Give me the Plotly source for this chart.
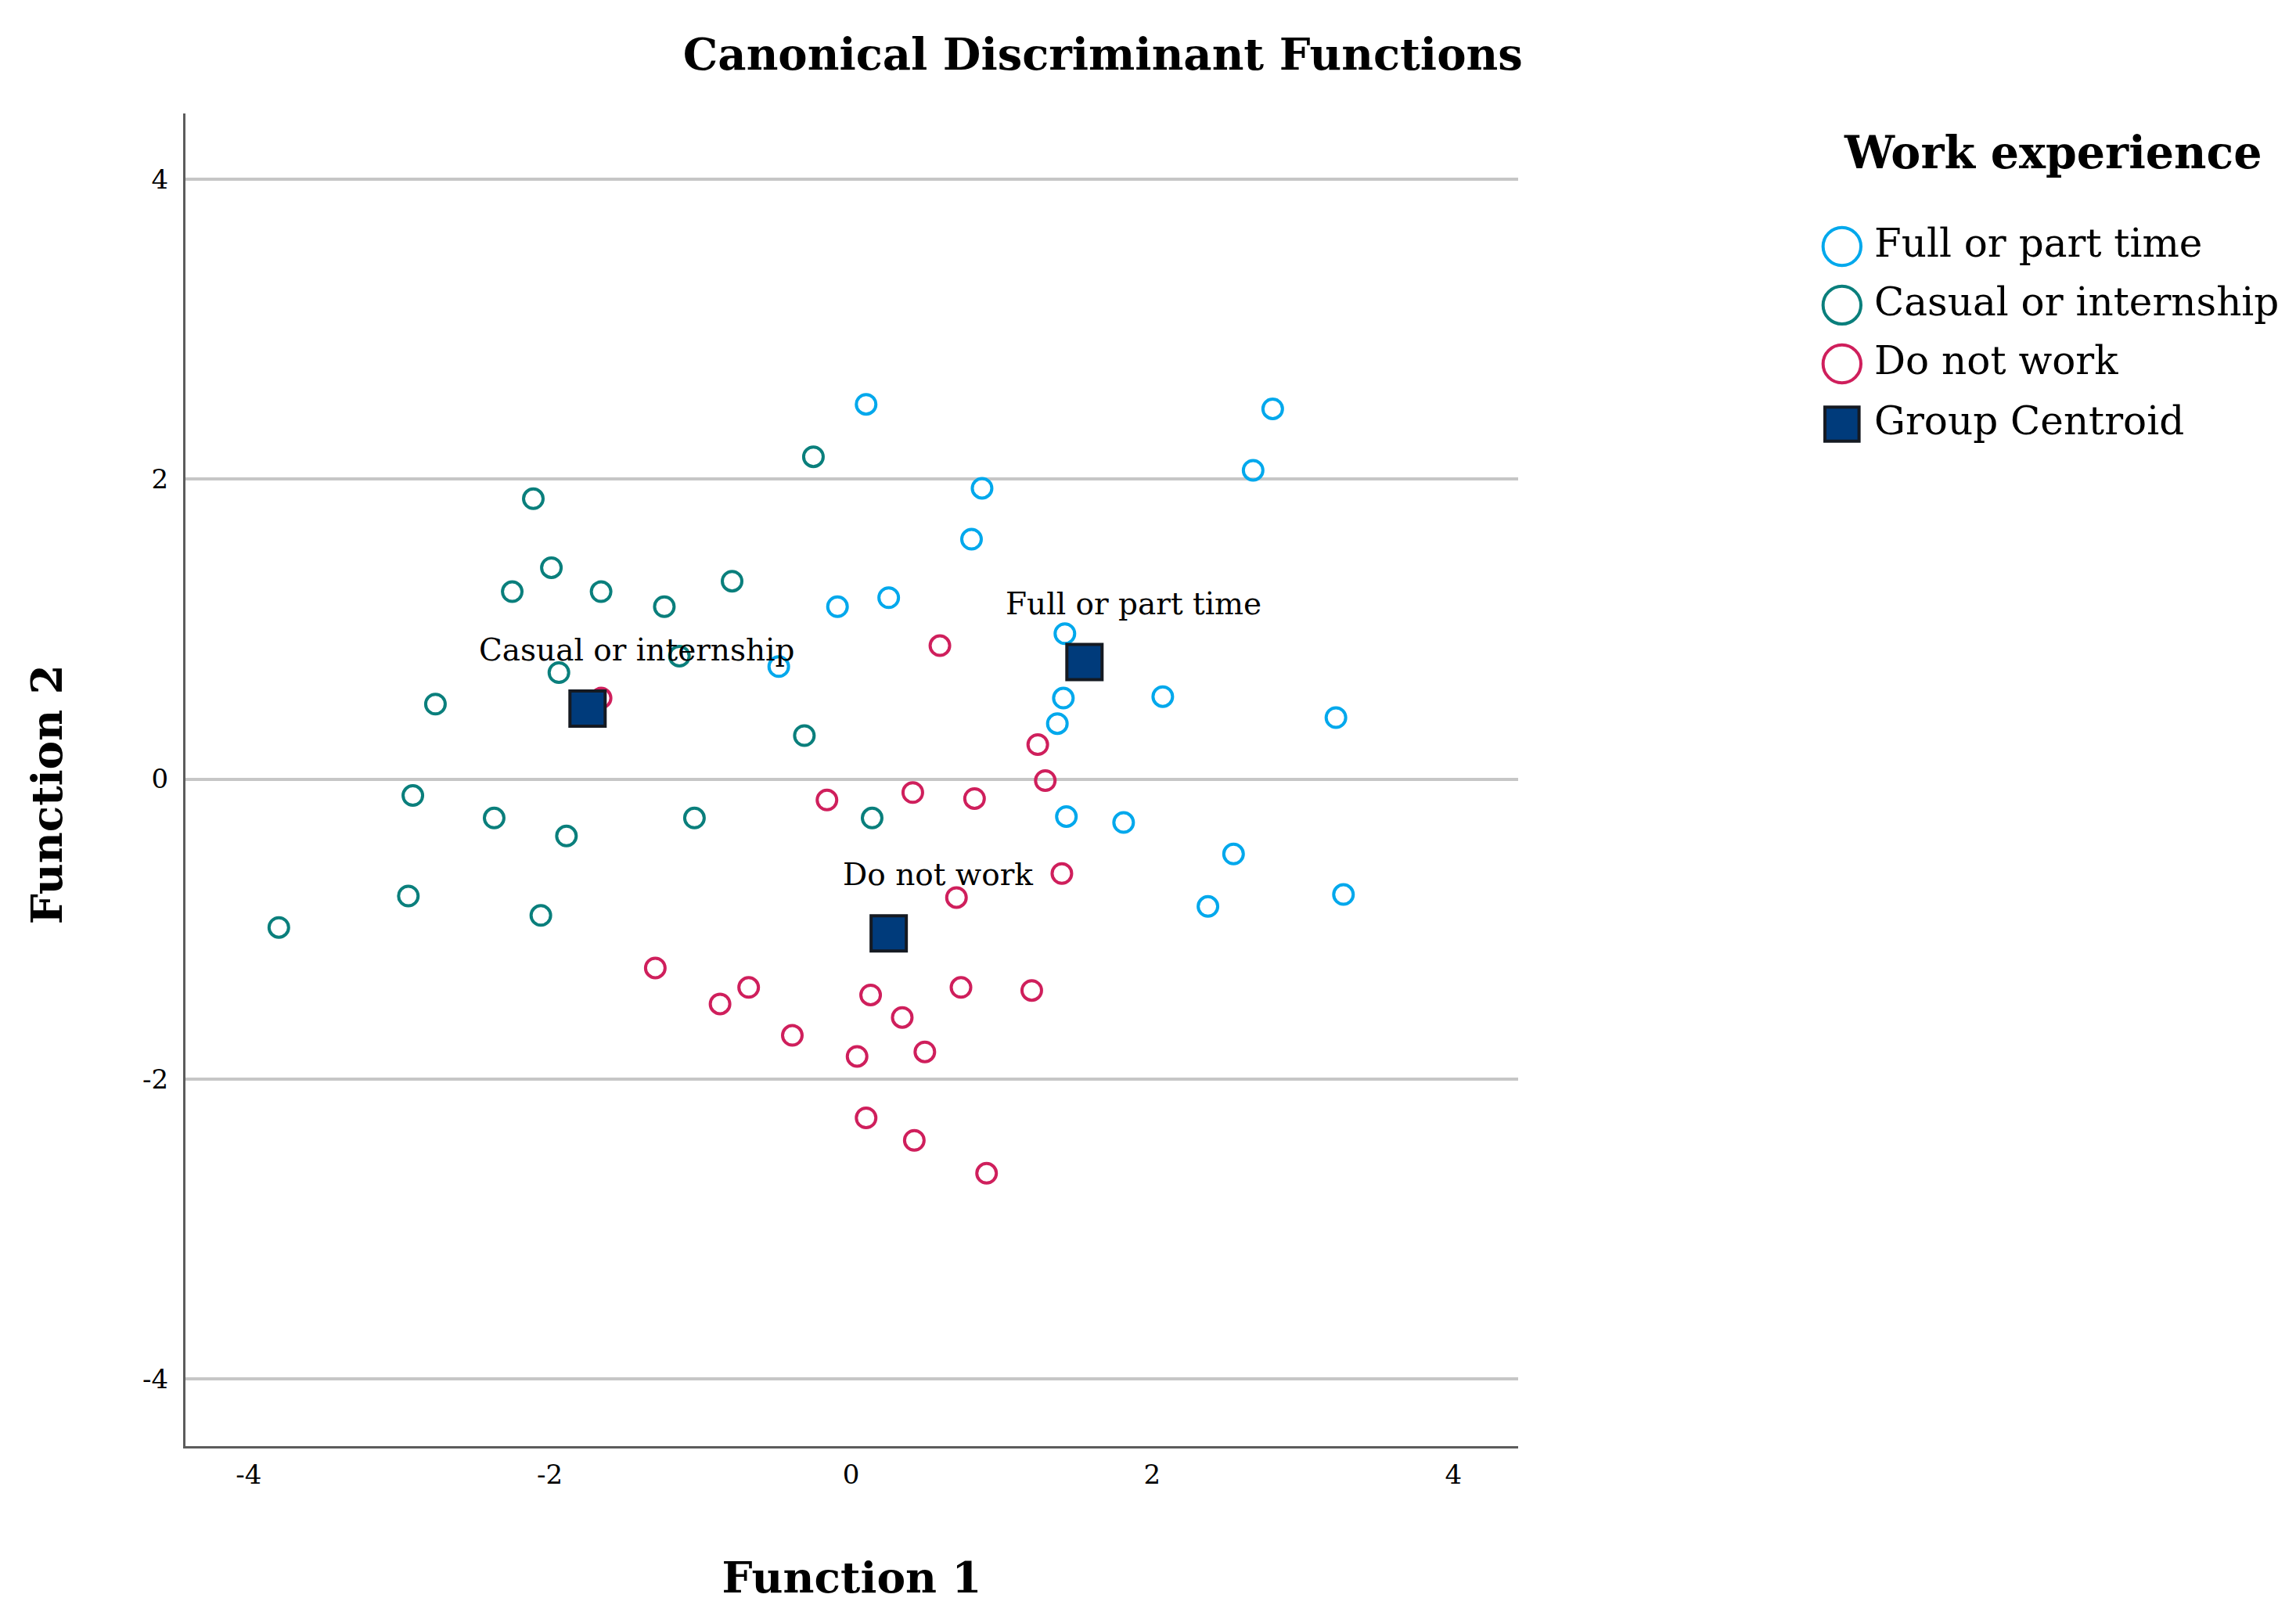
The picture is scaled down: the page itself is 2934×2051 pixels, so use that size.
import plotly.graph_objects as go

# ---- data ----
full_x = [0.10, 2.80, 2.67, 0.87, 0.80, -0.09, 0.25, 1.42, -0.48, 1.41, 2.07, 1.37, 3.22, 1.43, 1.81, 2.54, 2.37, 3.27]
full_y = [2.50, 2.47, 2.06, 1.94, 1.60, 1.15, 1.21, 0.97, 0.75, 0.54, 0.55, 0.37, 0.41, -0.25, -0.29, -0.50, -0.85, -0.77]

casual_x = [-0.25, -2.11, -1.99, -2.25, -1.66, -1.24, -0.79, -1.14, -1.94, -2.76, -0.31, -2.91, -2.37, -1.89, -1.04, 0.14, -2.94, -2.06, -3.80]
casual_y = [2.15, 1.87, 1.41, 1.25, 1.25, 1.15, 1.32, 0.82, 0.71, 0.50, 0.29, -0.11, -0.26, -0.38, -0.26, -0.26, -0.78, -0.91, -0.99]

none_x = [0.59, -1.66, 1.24, 1.29, 0.41, -0.16, 0.82, 1.40, 0.70, -1.30, -0.68, -0.87, 0.13, 0.73, 1.20, 0.34, -0.39, 0.04, 0.49, 0.10, 0.42, 0.90]
none_y = [0.89, 0.54, 0.23, -0.01, -0.09, -0.14, -0.13, -0.63, -0.79, -1.26, -1.39, -1.50, -1.44, -1.39, -1.41, -1.59, -1.71, -1.85, -1.82, -2.26, -2.41, -2.63]

centroid_names = ["Full or part time", "Casual or internship", "Do not work"]
centroid_x = [1.55, -1.75, 0.25]
centroid_y = [0.78, 0.47, -1.03]

legend_title = "Work experience"
legend_labels = ["Full or part time", "Casual or internship", "Do not work", "Group Centroid"]

tick_vals = [-4, -2, 0, 2, 4]
tick_text = ["-4", "-2", "0", "2", "4"]

FONT = "DejaVu Serif"
C_FULL = "#00a8ec"
C_CAS = "#0a7f7c"
C_NONE = "#cf1f5c"
C_CEN = "#003b7b"
C_EDGE = "#151a22"

fig = go.Figure()

def circles(x, y, color, name):
    fig.add_trace(go.Scatter(
        x=x, y=y, mode="markers", name=name,
        marker=dict(symbol="circle-open", size=25, color=color, line=dict(width=4, color=color)),
    ))

circles(full_x, full_y, C_FULL, "Full or part time")
circles(casual_x, casual_y, C_CAS, "Casual or internship")
circles(none_x, none_y, C_NONE, "Do not work")

fig.add_trace(go.Scatter(
    x=centroid_x, y=centroid_y, mode="markers", name="Group Centroid",
    marker=dict(symbol="square", size=45, color=C_CEN, line=dict(width=4, color=C_EDGE)),
))

for n, cx, cy in zip(centroid_names, centroid_x, centroid_y):
    fig.add_annotation(x=cx, y=cy, text=n, showarrow=False, xanchor="center", yanchor="middle",
                       xshift=63, yshift=75, font=dict(family=FONT, size=39, color="black"))

# ---- legend (drawn with paper-referenced annotations and swatches) ----
LEG_SYM_X = 1.243
LEG_TXT_X = 1.266
leg_text_y = [0.9025, 0.8585, 0.8144, 0.7692]
leg_sym_dy = -0.0023
R = 0.0142
fig.add_annotation(xref="paper", yref="paper", x=1.401, y=0.971, text="<b>%s</b>" % legend_title,
                   showarrow=False, xanchor="center", yanchor="middle",
                   font=dict(family=FONT, size=57, color="black"))
sym_colors = [C_FULL, C_CAS, C_NONE]
for i, lab in enumerate(legend_labels):
    ty = leg_text_y[i]
    fig.add_annotation(xref="paper", yref="paper", x=LEG_TXT_X, y=ty, text=lab, showarrow=False,
                       xanchor="left", yanchor="middle", font=dict(family=FONT, size=50, color="black"))
    sy = ty + leg_sym_dy
    if i < 3:
        fig.add_shape(type="circle", xref="paper", yref="paper",
                      x0=LEG_SYM_X - R, x1=LEG_SYM_X + R, y0=sy - R, y1=sy + R,
                      line=dict(color=sym_colors[i], width=4), fillcolor="rgba(0,0,0,0)")
    else:
        q = 0.0128
        fig.add_shape(type="rect", xref="paper", yref="paper",
                      x0=LEG_SYM_X - q, x1=LEG_SYM_X + q, y0=sy - q, y1=sy + q,
                      line=dict(color=C_EDGE, width=4), fillcolor=C_CEN)

# y-axis title (slightly below the plot centre, as in the reference)
fig.add_annotation(xref="paper", yref="paper", x=-0.1045, y=0.489, text="<b>Function 2</b>",
                   textangle=-90, showarrow=False, xanchor="center", yanchor="middle",
                   font=dict(family=FONT, size=55, color="black"))

fig.update_layout(
    width=2934, height=2051,
    margin=dict(l=229, r=1002, t=137, b=211),
    paper_bgcolor="white", plot_bgcolor="white",
    font=dict(family=FONT, color="black"),
    title=dict(text="<b>Canonical Discriminant Functions</b>", x=0.4776, xanchor="center",
               y=0.970, yanchor="middle", font=dict(family=FONT, size=56, color="black")),
    showlegend=False,
)

fig.update_xaxes(
    range=[-4.42, 4.43], tickvals=tick_vals, ticktext=tick_text,
    showgrid=False, zeroline=False, showline=True, linecolor="#5c5c5c", linewidth=3,
    ticks="outside", ticklen=4, tickcolor="rgba(0,0,0,0)",
    tickfont=dict(family=FONT, size=34, color="black"),
    title=dict(text="<b>Function 1</b>", font=dict(family=FONT, size=55, color="black"), standoff=94),
)
fig.update_yaxes(
    range=[-4.45, 4.44], tickvals=tick_vals, ticktext=tick_text,
    showgrid=True, gridcolor="#c6c6c6", gridwidth=4, zeroline=False,
    showline=True, linecolor="#5c5c5c", linewidth=3,
    ticks="outside", ticklen=12, tickcolor="rgba(0,0,0,0)",
    tickfont=dict(family=FONT, size=34, color="black"),
)

fig.write_html("out.html")
